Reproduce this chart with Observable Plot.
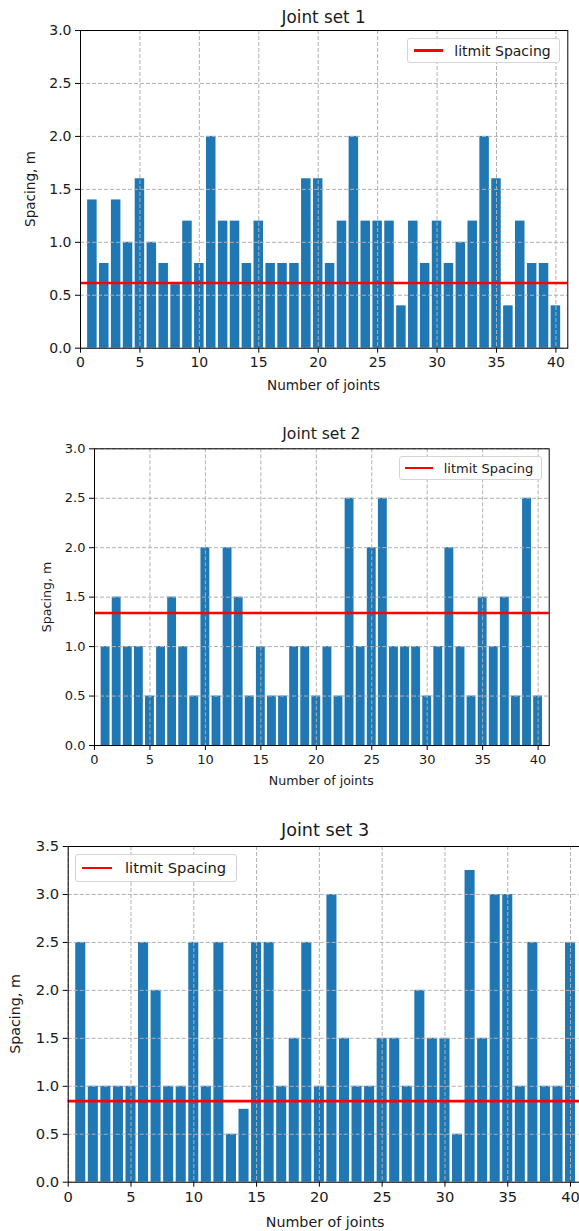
<!DOCTYPE html>
<html>
<head>
<meta charset="utf-8">
<script src="https://cdn.jsdelivr.net/npm/d3@7"></script>
<script src="https://cdn.jsdelivr.net/npm/@observablehq/plot@0.6"></script>
<style>
  html, body { margin: 0; padding: 0; background: #fff; }
  #root { position: relative; width: 579px; height: 1231px; overflow: hidden; font-family: "DejaVu Sans", sans-serif; color: #1a1a1a; }
  .txt { position: absolute; white-space: nowrap; line-height: 1; }
  .panel { position: absolute; left: 0; }
  .legend { position: absolute; box-sizing: border-box; border: 1px solid #d4d4d4; border-radius: 3px; background: rgba(255,255,255,0.85); }
  .legend .ln { position: absolute; height: 2.6px; background: #ff0000; }
  .legend .lt { position: absolute; white-space: nowrap; line-height: 1; transform: translateY(-50%); }
</style>
</head>
<body>
<div id="root"></div>
<script>
// ---- data ----
const joints = [1,2,3,4,5,6,7,8,9,10,11,12,13,14,15,16,17,18,19,20,21,22,23,24,25,26,27,28,29,30,31,32,33,34,35,36,37,38,39,40];
const set1 = [1.4,0.8,1.4,1.0,1.6,1.0,0.8,0.6,1.2,0.8,2.0,1.2,1.2,0.8,1.2,0.8,0.8,0.8,1.6,1.6,0.8,1.2,2.0,1.2,1.2,1.2,0.4,1.2,0.8,1.2,0.8,1.0,1.2,2.0,1.6,0.4,1.2,0.8,0.8,0.4];
const set2 = [1.0,1.5,1.0,1.0,0.5,1.0,1.5,1.0,0.5,2.0,0.5,2.0,1.5,0.5,1.0,0.5,0.5,1.0,1.0,0.5,1.0,0.5,2.5,1.0,2.0,2.5,1.0,1.0,1.0,0.5,1.0,2.0,1.0,0.5,1.5,1.0,1.5,0.5,2.5,0.5];
const set3 = [2.5,1.0,1.0,1.0,1.0,2.5,2.0,1.0,1.0,2.5,1.0,2.5,0.5,0.76,2.5,2.5,1.0,1.5,2.5,1.0,3.0,1.5,1.0,1.0,1.5,1.5,1.0,2.0,1.5,1.5,0.5,3.25,1.5,3.0,3.0,1.0,2.5,1.0,1.0,2.5];
const limits = [0.615, 1.34, 0.845];
const titles = ["Joint set 1", "Joint set 2", "Joint set 3"];
const xTicks = [0,5,10,15,20,25,30,35,40];
const yTicksA = [0,0.5,1.0,1.5,2.0,2.5,3.0];
const yTicksB = [0,0.5,1.0,1.5,2.0,2.5,3.0,3.5];
const legendLabel = "litmit Spacing";
const xLabel = "Number of joints";
const yLabel = "Spacing, m";

// ---- layout ----
const layouts = [
  {top: 0,   height: 400, ml: 80,   mr: 11.7, mt: 30,   mb: 52.3, ymax: 3.0, yTicks: yTicksA, font: 14,
   titleY: 17, xLabelY: 386, yLabelX: 31,
   legend: {x: 406.7, y: 38, w: 153.3, h: 25, lx: 6, lw: 29, tx: 46.6}},
  {top: 400, height: 400, ml: 94,   mr: 30.3, mt: 48.3, mb: 55,   ymax: 3.0, yTicks: yTicksA, font: 13,
   titleY: 435, xLabelY: 781, yLabelX: 47,
   legend: {x: 399.3, y: 455.7, w: 142.7, h: 24.3, lx: 5, lw: 27.4, tx: 43.4}},
  {top: 800, height: 431, ml: 67.7, mr: -3.6, mt: 46,   mb: 49.3, ymax: 3.5, yTicks: yTicksB, font: 14.7,
   titleY: 1031 - 200, xLabelY: 1221.5, yLabelX: 15,
   legend: {x: 75, y: 854, w: 161.7, h: 27.7, lx: 5.7, lw: 30.3, tx: 49}}
];
const series = [set1, set2, set3];

const root = document.getElementById("root");

function addText(str, cx, cy, size, rotate) {
  const d = document.createElement("div");
  d.className = "txt";
  d.textContent = str;
  d.style.left = cx + "px";
  d.style.top = cy + "px";
  d.style.fontSize = size + "px";
  d.style.transform = "translate(-50%,-50%)" + (rotate ? " rotate(-90deg)" : "");
  root.appendChild(d);
}

layouts.forEach((L, k) => {
  const data = joints.map((j, i) => ({joint: j, value: series[k][i]}));
  const grid = {stroke: "#b0b0b0", strokeOpacity: 1, strokeWidth: 1, strokeDasharray: "4,2"};
  const svg = Plot.plot({
    width: 579,
    height: L.height,
    marginLeft: L.ml, marginRight: L.mr, marginTop: L.mt, marginBottom: L.mb,
    style: {fontFamily: "DejaVu Sans, sans-serif", fontSize: L.font + "px", color: "#1a1a1a", background: "transparent", overflow: "visible"},
    x: {domain: [0, 41]},
    y: {domain: [0, L.ymax]},
    marks: [
      Plot.rectY(data, {x1: d => d.joint - 0.4, x2: d => d.joint + 0.4, y1: 0, y2: "value", fill: "#1f77b4"}),
      Plot.gridX({ticks: xTicks, ...grid}),
      Plot.gridY({ticks: L.yTicks, ...grid}),
      Plot.ruleY([limits[k]], {stroke: "#ff0000", strokeWidth: 2.6}),
      Plot.frame({stroke: "#000", strokeWidth: 1}),
      Plot.axisX({ticks: xTicks, tickSize: 5, tickPadding: 4, tickFormat: d => String(d), label: null, stroke: "#000", strokeOpacity: 1}),
      Plot.axisY({ticks: L.yTicks, tickSize: 5, tickPadding: 4, tickFormat: d3.format(".1f"), label: null, stroke: "#000", strokeOpacity: 1})
    ]
  });
  const wrap = document.createElement("div");
  wrap.className = "panel";
  wrap.style.top = L.top + "px";
  wrap.appendChild(svg);
  root.appendChild(wrap);

  const plotLeft = L.ml, plotRight = 579 - L.mr;
  const cx = (plotLeft + plotRight) / 2;
  const plotTop = L.top + L.mt, plotBottom = L.top + L.height - L.mb;
  addText(titles[k], cx, L.titleY, L.font * 1.2);
  addText(xLabel, cx, L.xLabelY, L.font * 0.97);
  addText(yLabel, L.yLabelX, (plotTop + plotBottom) / 2, L.font * 0.97, true);

  const g = L.legend;
  const box = document.createElement("div");
  box.className = "legend";
  box.style.left = g.x + "px";
  box.style.top = g.y + "px";
  box.style.width = g.w + "px";
  box.style.height = g.h + "px";
  const ln = document.createElement("div");
  ln.className = "ln";
  ln.style.left = g.lx + "px";
  ln.style.width = g.lw + "px";
  ln.style.top = (g.h / 2 - 1.3 - 1) + "px";
  const lt = document.createElement("div");
  lt.className = "lt";
  lt.textContent = legendLabel;
  lt.style.left = g.tx + "px";
  lt.style.top = (g.h / 2 - 1) + "px";
  lt.style.fontSize = L.font + "px";
  box.appendChild(ln);
  box.appendChild(lt);
  root.appendChild(box);
});
</script>
</body>
</html>
